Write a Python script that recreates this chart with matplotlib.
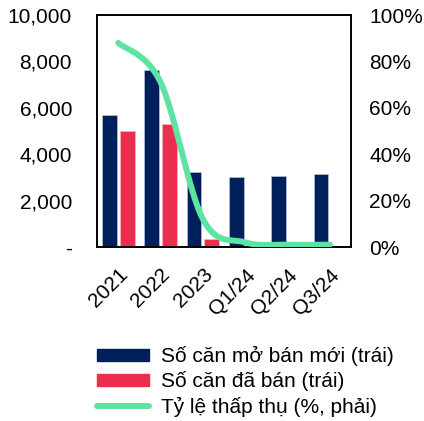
import numpy as np
import matplotlib
matplotlib.use("Agg")
import matplotlib.pyplot as plt
from matplotlib.patches import Patch
from matplotlib.lines import Line2D
from matplotlib.ticker import FuncFormatter

plt.rcParams['font.family'] = ['Liberation Sans', 'DejaVu Sans']

periods = ["2021", "2022", "2023", "Q1/24", "Q2/24", "Q3/24"]
new_launch = [5700, 7650, 3250, 3000, 3050, 3150]
units_sold = [5000, 5300, 350, 60, 30, 30]
absorption = [88, 71, 12, 2, 1, 1]

NAVY = "#00205C"
RED = "#EC2D4D"
GREEN = "#5DE3A2"
FS = 15


def smooth_curve(xs, ys, n=40):
    """Spline through the points using cubic Bezier segments (Catmull-Rom style)."""
    pts = np.column_stack([xs, ys]).astype(float)
    out = []
    for i in range(len(pts) - 1):
        p0 = pts[i - 1] if i > 0 else pts[i]
        p1 = pts[i]
        p2 = pts[i + 1]
        p3 = pts[i + 2] if i + 2 < len(pts) else pts[i + 1]
        c1 = p1 + (p2 - p0) / 6.0
        c2 = p2 - (p3 - p1) / 6.0
        t = np.linspace(0, 1, n)[:, None]
        seg = ((1 - t) ** 3) * p1 + 3 * ((1 - t) ** 2) * t * c1 + 3 * (1 - t) * t ** 2 * c2 + t ** 3 * p2
        out.append(seg if i == 0 else seg[1:])
    out = np.vstack(out)
    return out[:, 0], out[:, 1]


fig = plt.figure(figsize=(4.24, 4.21), dpi=100)
ax = fig.add_axes([0.229, 0.4133, 0.599, 0.551])

x = np.arange(len(periods))
w = 0.35
ax.bar(x - 0.21, new_launch, w, color=NAVY, edgecolor="#c8cde0", linewidth=0.4, zorder=2)
ax.bar(x + 0.21, units_sold, w, color=RED, edgecolor="#f6c0c8", linewidth=0.4, zorder=2)

ax.set_xlim(-0.5, len(periods) - 0.5)
ax.set_ylim(0, 10000)
ax.set_yticks(np.arange(0, 10001, 2000))
ax.yaxis.set_major_formatter(FuncFormatter(lambda v, p: "-" if v == 0 else f"{int(v):,}"))
ax.tick_params(axis="y", length=0, pad=18, labelsize=FS)
ax.set_xticks(x)
ax.set_xticklabels(periods, rotation=45, ha="right", va="top", rotation_mode="anchor")
ax.tick_params(axis="x", length=0, pad=13, labelsize=FS)

ax2 = ax.twinx()
ax2.set_ylim(0, 100)
ax2.set_yticks(np.arange(0, 101, 20))
ax2.yaxis.set_major_formatter(FuncFormatter(lambda v, p: f"{int(v)}%"))
ax2.tick_params(axis="y", length=0, pad=13, labelsize=FS)
sx, sy = smooth_curve(x, absorption)
ax2.plot(sx, sy, color=GREEN, linewidth=4.3, solid_capstyle="round", zorder=3)

for a in (ax, ax2):
    for s in a.spines.values():
        s.set_color("black")
        s.set_linewidth(1.2)

handles = [
    Patch(facecolor=NAVY, edgecolor=NAVY),
    Patch(facecolor=RED, edgecolor=RED),
    Line2D([0], [0], color=GREEN, linewidth=4.3, solid_capstyle="round"),
]
labels = ["Số căn mở bán mới (trái)", "Số căn đã bán (trái)", "Tỷ lệ thấp thụ (%, phải)"]
fig.legend(handles, labels, loc="upper left", bbox_to_anchor=(0.228, 0.178),
           frameon=False, fontsize=FS, handlelength=2.5, handleheight=0.53,
           handletextpad=0.58, labelspacing=0.25, borderpad=0, borderaxespad=0)

fig.savefig("out.png", dpi=100)
